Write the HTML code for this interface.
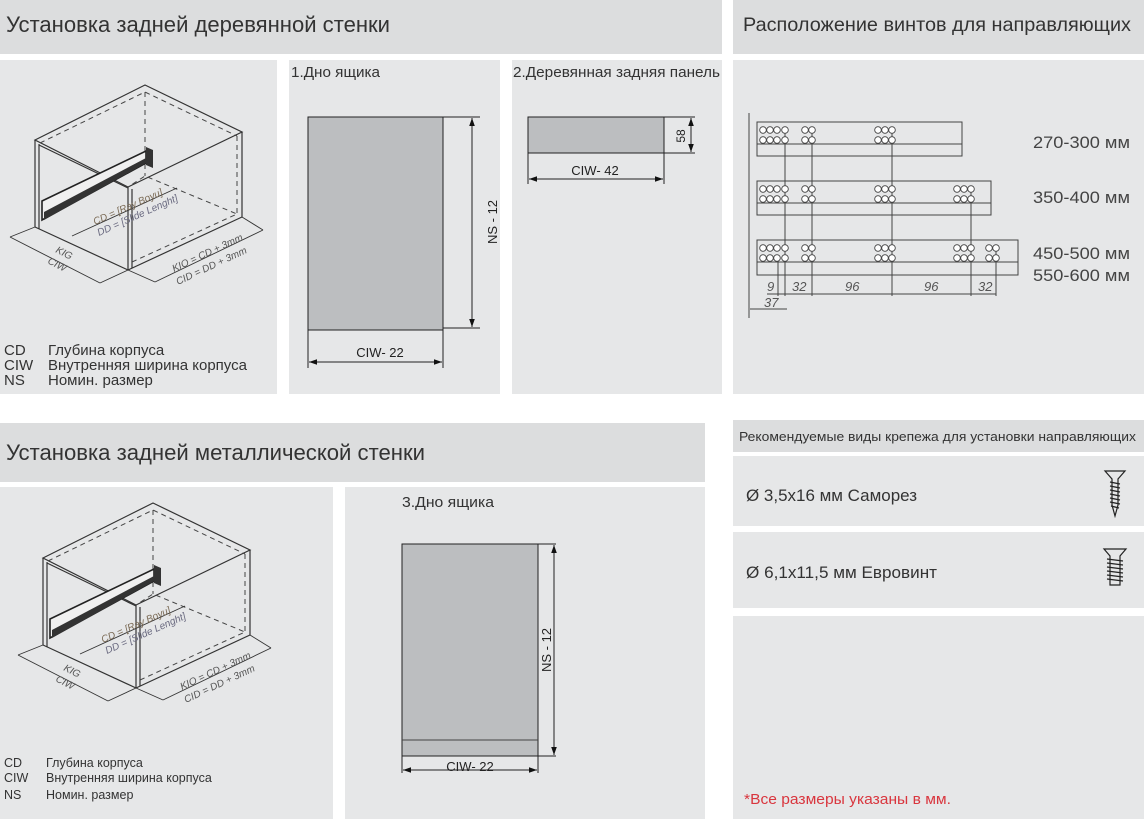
<!DOCTYPE html>
<html><head><meta charset="utf-8"><style>
html,body{margin:0;padding:0;background:#fff;}
svg{display:block;font-family:"Liberation Sans",sans-serif;}
</style></head><body>
<svg width="1144" height="819" viewBox="0 0 1144 819" xmlns="http://www.w3.org/2000/svg">
<defs>
<marker id="a" viewBox="0 0 10 10" refX="10" refY="5" markerWidth="8" markerHeight="8" orient="auto-start-reverse"><path d="M0,1.5 L10,5 L0,8.5z" fill="#111"/></marker>
<g id="box">
 <g fill="none" stroke="#333" stroke-width="1.2">
  <polygon points="35,140 145,85 242,132 128,187"/>
  <line x1="35" y1="140" x2="35" y2="227"/><line x1="39" y1="144" x2="39" y2="229"/>
  <line x1="128" y1="187" x2="128" y2="270"/><line x1="132" y1="189" x2="132" y2="268"/>
  <line x1="242" y1="132" x2="242" y2="217"/>
  <polyline points="35,227 128,270 242,217"/>
  <line x1="39" y1="145" x2="128" y2="188"/>
 </g>
 <g fill="none" stroke="#444" stroke-width="1" stroke-dasharray="5,4">
  <polyline points="40,143 145,92 237,136"/>
  <line x1="145" y1="92" x2="145" y2="176"/>
  <line x1="237" y1="136" x2="237" y2="214"/>
  <polyline points="132,262 237,214 145,176 128,187"/>
 </g>
 <polygon points="42,201 146,151 146,163 42,220" fill="#f0f0f0" stroke="#222" stroke-width="1.6"/>
 <polygon points="44,212 146,158 146,163 44,220" fill="#333"/>
 <polygon points="146,147 153,150 153,168 146,165" fill="#333"/>
 <g stroke="#333" stroke-width="0.9" fill="none">
  <line x1="10" y1="237" x2="100" y2="283"/><line x1="35" y1="227" x2="10" y2="237"/><line x1="128" y1="270" x2="100" y2="283"/>
  <line x1="72" y1="236" x2="177" y2="188"/>
  <line x1="155" y1="282" x2="263" y2="230"/><line x1="128" y1="270" x2="155" y2="282"/><line x1="242" y1="217" x2="263" y2="230"/>
 </g>
 <g font-size="10" font-style="italic" fill="#555">
  <text transform="translate(55,252) rotate(27)">KIG</text>
  <text transform="translate(47,263) rotate(27)">CIW</text>
  <text transform="translate(95,225) rotate(-24)" fill="#7a6a55">CD = [Ray Boyu]</text>
  <text transform="translate(99,236) rotate(-24)" fill="#6a6a80">DD = [Slide Lenght]</text>
  <text transform="translate(174,272) rotate(-25)">KIO = CD + 3mm</text>
  <text transform="translate(178,285) rotate(-25)">CID = DD + 3mm</text>
 </g>
</g>
</defs>
<rect x="0" y="0" width="722" height="54" fill="#dcddde"/>
<rect x="733" y="0" width="411" height="54" fill="#dcddde"/>
<rect x="0" y="60" width="277" height="334" fill="#e6e7e8"/>
<rect x="289" y="60" width="211" height="334" fill="#e6e7e8"/>
<rect x="512" y="60" width="210" height="334" fill="#e6e7e8"/>
<rect x="733" y="60" width="411" height="334" fill="#e6e7e8"/>
<rect x="0" y="423" width="705" height="59" fill="#dcddde"/>
<rect x="0" y="487" width="333" height="332" fill="#e6e7e8"/>
<rect x="345" y="487" width="360" height="332" fill="#e6e7e8"/>
<rect x="733" y="420" width="411" height="32" fill="#dcddde"/>
<rect x="733" y="456" width="411" height="70" fill="#e6e7e8"/>
<rect x="733" y="532" width="411" height="76" fill="#e6e7e8"/>
<rect x="733" y="616" width="411" height="203" fill="#e6e7e8"/>
<g fill="#333">
<text x="6" y="32" font-size="22" textLength="384" lengthAdjust="spacingAndGlyphs">Установка задней деревянной стенки</text>
<text x="743" y="31" font-size="19.5" textLength="388" lengthAdjust="spacingAndGlyphs">Расположение винтов для направляющих</text>
<text x="6" y="460" font-size="22" textLength="419" lengthAdjust="spacingAndGlyphs">Установка задней металлической стенки</text>
<text x="739" y="441" font-size="13" textLength="397" lengthAdjust="spacingAndGlyphs">Рекомендуемые виды крепежа для установки направляющих</text>
<text x="291" y="77" font-size="14.5" textLength="89" lengthAdjust="spacingAndGlyphs">1.Дно ящика</text>
<text x="513" y="77" font-size="14.5" textLength="207" lengthAdjust="spacingAndGlyphs">2.Деревянная задняя панель</text>
<text x="402" y="507" font-size="14.5" textLength="92" lengthAdjust="spacingAndGlyphs">3.Дно ящика</text>
<text x="746" y="501" font-size="16.5" textLength="171" lengthAdjust="spacingAndGlyphs">Ø 3,5x16 мм Саморез</text>
<text x="746" y="578" font-size="16.5" textLength="191" lengthAdjust="spacingAndGlyphs">Ø 6,1x11,5 мм Евровинт</text>
</g>
<text x="744" y="804" font-size="14.5" fill="#d9363e" textLength="207" lengthAdjust="spacingAndGlyphs">*Все размеры указаны в мм.</text>
<use href="#box"/>
<use href="#box" transform="translate(8,418)"/>
<g fill="#333" font-size="15">
<text x="4" y="355">CD</text><text x="48" y="355">Глубина корпуса</text>
<text x="4" y="370">CIW</text><text x="48" y="370">Внутренняя ширина корпуса</text>
<text x="4" y="385">NS</text><text x="48" y="385">Номин. размер</text>
</g>
<g fill="#333" font-size="12.5">
<text x="4" y="767">CD</text><text x="46" y="767">Глубина корпуса</text>
<text x="4" y="782">CIW</text><text x="46" y="782">Внутренняя ширина корпуса</text>
<text x="4" y="799">NS</text><text x="46" y="799">Номин. размер</text>
</g>
<rect x="308" y="117" width="135" height="213" fill="#bcbec0" stroke="#222" stroke-width="1"/>
<g stroke="#222" stroke-width="1" fill="none">
<line x1="443" y1="117" x2="480" y2="117"/><line x1="443" y1="328" x2="480" y2="328"/>
<line x1="472" y1="118" x2="472" y2="327" marker-start="url(#a)" marker-end="url(#a)"/>
<line x1="308" y1="330" x2="308" y2="368"/><line x1="443" y1="330" x2="443" y2="368"/>
<line x1="309" y1="362" x2="442" y2="362" marker-start="url(#a)" marker-end="url(#a)"/>
</g>
<text font-size="13" fill="#222" transform="translate(497,222) rotate(-90)" text-anchor="middle">NS - 12</text>
<text x="380" y="357" font-size="13" fill="#222" text-anchor="middle">CIW- 22</text>
<rect x="528" y="117" width="136" height="36" fill="#bcbec0" stroke="#222"/>
<g stroke="#222" stroke-width="1" fill="none">
<line x1="664" y1="117" x2="695" y2="117"/><line x1="664" y1="153" x2="695" y2="153"/>
<line x1="691" y1="118" x2="691" y2="152" marker-start="url(#a)" marker-end="url(#a)"/>
<line x1="528" y1="153" x2="528" y2="184"/><line x1="664" y1="153" x2="664" y2="184"/>
<line x1="529" y1="179" x2="663" y2="179" marker-start="url(#a)" marker-end="url(#a)"/>
</g>
<text font-size="12" fill="#222" transform="translate(685,136) rotate(-90)" text-anchor="middle">58</text>
<text x="595" y="175" font-size="13" fill="#222" text-anchor="middle">CIW- 42</text>
<rect x="402" y="544" width="136" height="212" fill="#bcbec0" stroke="#222"/>
<line x1="402" y1="740" x2="538" y2="740" stroke="#444"/>
<g stroke="#222" stroke-width="1" fill="none">
<line x1="538" y1="544" x2="556" y2="544"/><line x1="538" y1="756" x2="556" y2="756"/>
<line x1="554" y1="545" x2="554" y2="755" marker-start="url(#a)" marker-end="url(#a)"/>
<line x1="402" y1="756" x2="402" y2="773"/><line x1="538" y1="756" x2="538" y2="773"/>
<line x1="403" y1="770" x2="537" y2="770" marker-start="url(#a)" marker-end="url(#a)"/>
</g>
<text font-size="13" fill="#222" transform="translate(551,650) rotate(-90)" text-anchor="middle">NS - 12</text>
<text x="470" y="771" font-size="13" fill="#222" text-anchor="middle">CIW- 22</text>
<g stroke="#444" stroke-width="1" fill="none">
<line x1="749" y1="113" x2="749" y2="318"/>
<rect x="757" y="122" width="205" height="34"/><line x1="757" y1="144" x2="962" y2="144"/>
<rect x="757" y="181" width="234" height="34"/><line x1="757" y1="203" x2="991" y2="203"/>
<rect x="757" y="240" width="261" height="35"/><line x1="757" y1="262" x2="1018" y2="262"/>
<line x1="785" y1="130" x2="785" y2="296"/><line x1="812" y1="130" x2="812" y2="296"/>
<line x1="892" y1="130" x2="892" y2="296"/><line x1="971" y1="189" x2="971" y2="296"/>
<line x1="778" y1="257" x2="778" y2="296"/><line x1="996" y1="249" x2="996" y2="296"/>
<line x1="767" y1="294" x2="996" y2="294"/>
<line x1="750" y1="309" x2="787" y2="309"/>
</g>
<g fill="#fff" stroke="#444" stroke-width="0.9">
<circle cx="763" cy="130" r="3.3"/><circle cx="770" cy="130" r="3.3"/><circle cx="777" cy="130" r="3.3"/><circle cx="785" cy="130" r="3.3"/>
<circle cx="763" cy="140" r="3.3"/><circle cx="770" cy="140" r="3.3"/><circle cx="777" cy="140" r="3.3"/><circle cx="785" cy="140" r="3.3"/>
<circle cx="805" cy="130" r="3.3"/><circle cx="812" cy="130" r="3.3"/><circle cx="805" cy="140" r="3.3"/><circle cx="812" cy="140" r="3.3"/>
<circle cx="878" cy="130" r="3.3"/><circle cx="885" cy="130" r="3.3"/><circle cx="892" cy="130" r="3.3"/><circle cx="878" cy="140" r="3.3"/><circle cx="885" cy="140" r="3.3"/><circle cx="892" cy="140" r="3.3"/>
<circle cx="763" cy="189" r="3.3"/><circle cx="770" cy="189" r="3.3"/><circle cx="777" cy="189" r="3.3"/><circle cx="785" cy="189" r="3.3"/>
<circle cx="763" cy="199" r="3.3"/><circle cx="770" cy="199" r="3.3"/><circle cx="777" cy="199" r="3.3"/><circle cx="785" cy="199" r="3.3"/>
<circle cx="805" cy="189" r="3.3"/><circle cx="812" cy="189" r="3.3"/><circle cx="805" cy="199" r="3.3"/><circle cx="812" cy="199" r="3.3"/>
<circle cx="878" cy="189" r="3.3"/><circle cx="885" cy="189" r="3.3"/><circle cx="892" cy="189" r="3.3"/><circle cx="878" cy="199" r="3.3"/><circle cx="885" cy="199" r="3.3"/><circle cx="892" cy="199" r="3.3"/>
<circle cx="957" cy="189" r="3.3"/><circle cx="964" cy="189" r="3.3"/><circle cx="971" cy="189" r="3.3"/><circle cx="957" cy="199" r="3.3"/><circle cx="964" cy="199" r="3.3"/><circle cx="971" cy="199" r="3.3"/>
<circle cx="763" cy="248" r="3.3"/><circle cx="770" cy="248" r="3.3"/><circle cx="777" cy="248" r="3.3"/><circle cx="785" cy="248" r="3.3"/>
<circle cx="763" cy="258" r="3.3"/><circle cx="770" cy="258" r="3.3"/><circle cx="777" cy="258" r="3.3"/><circle cx="785" cy="258" r="3.3"/>
<circle cx="805" cy="248" r="3.3"/><circle cx="812" cy="248" r="3.3"/><circle cx="805" cy="258" r="3.3"/><circle cx="812" cy="258" r="3.3"/>
<circle cx="878" cy="248" r="3.3"/><circle cx="885" cy="248" r="3.3"/><circle cx="892" cy="248" r="3.3"/><circle cx="878" cy="258" r="3.3"/><circle cx="885" cy="258" r="3.3"/><circle cx="892" cy="258" r="3.3"/>
<circle cx="957" cy="248" r="3.3"/><circle cx="964" cy="248" r="3.3"/><circle cx="971" cy="248" r="3.3"/><circle cx="957" cy="258" r="3.3"/><circle cx="964" cy="258" r="3.3"/><circle cx="971" cy="258" r="3.3"/>
<circle cx="989" cy="248" r="3.3"/><circle cx="996" cy="248" r="3.3"/><circle cx="989" cy="258" r="3.3"/><circle cx="996" cy="258" r="3.3"/>
</g>
<g font-size="13" font-style="italic" fill="#555">
<text x="767" y="291">9</text><text x="792" y="291">32</text><text x="845" y="291">96</text><text x="924" y="291">96</text><text x="978" y="291">32</text><text x="764" y="307">37</text>
</g>
<g font-size="17" fill="#444">
<text x="1033" y="148" textLength="97" lengthAdjust="spacingAndGlyphs">270-300 мм</text><text x="1033" y="203" textLength="97" lengthAdjust="spacingAndGlyphs">350-400 мм</text>
<text x="1033" y="259" textLength="97" lengthAdjust="spacingAndGlyphs">450-500 мм</text><text x="1033" y="281" textLength="97" lengthAdjust="spacingAndGlyphs">550-600 мм</text>
</g>
<g stroke="#222" stroke-width="1.2" fill="none">
<path d="M1105,471 L1125,471 L1118,479 L1118,505 L1115,516 L1112,505 L1112,479 Z"/>
<path d="M1110,482 L1120,484 M1110,486 L1120,488 M1110,490 L1120,492 M1110,494 L1120,496 M1110,498 L1120,500 M1110,502 L1120,504 M1111,506 L1119,508"/>
<path d="M1104,549 L1126,549 L1120,556 L1120,585 L1110,585 L1110,556 Z"/>
<path d="M1107,559 L1123,561 M1107,563 L1123,565 M1107,567 L1123,569 M1107,571 L1123,573 M1107,575 L1123,577 M1107,579 L1123,581"/>
</g>
</svg>
</body></html>
